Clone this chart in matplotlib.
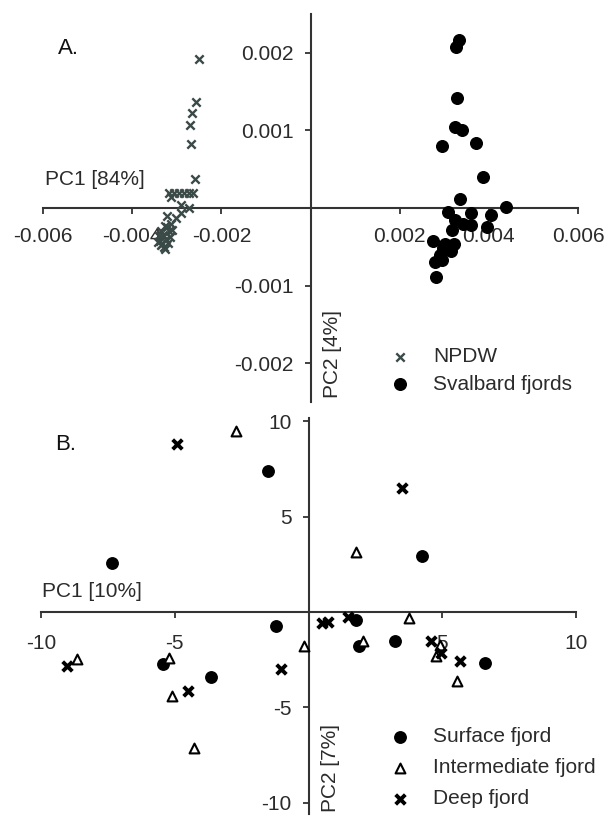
import matplotlib
matplotlib.use("Agg")
import numpy as np
from matplotlib import pyplot as plt
from matplotlib.ticker import FuncFormatter

plt.rcParams['font.family'] = ['Liberation Sans', 'DejaVu Sans']

# Panel A: PCA scores
npdw_x = [-0.00249, -0.00257, -0.00266, -0.00270, -0.00268, -0.00258,
          -0.00317, -0.00306, -0.00294, -0.00283, -0.00272, -0.00263,
          -0.00313, -0.00272, -0.00291, -0.00291, -0.00321, -0.00302,
          -0.00313, -0.00326,
          -0.00335, -0.00330, -0.00325, -0.00338, -0.00332, -0.00320,
          -0.00328, -0.00315, -0.00318, -0.00340, -0.00322, -0.00310,
          -0.00336, -0.00326, -0.00342]
npdw_y = [0.00192, 0.00137, 0.00123, 0.00107, 0.00083, 0.00037,
          0.00019, 0.00019, 0.00019, 0.00019, 0.00019, 0.00019,
          0.00014, 0.00000, 0.00004, -0.00007, -0.00010, -0.00013,
          -0.00020, -0.00023,
          -0.00030, -0.00035, -0.00040, -0.00042, -0.00046, -0.00045,
          -0.00050, -0.00038, -0.00030, -0.00036, -0.00025, -0.00028,
          -0.00048, -0.00053, -0.00044]

sval_x = [0.00333, 0.00327, 0.00329, 0.00325, 0.00339, 0.00296, 0.00372,
          0.00387, 0.00336, 0.00309, 0.00359, 0.00404, 0.00438, 0.00324,
          0.00342, 0.00359, 0.00395, 0.00318, 0.00275, 0.00301, 0.00321,
          0.00297, 0.00316, 0.00290, 0.00279, 0.00294, 0.00282]
sval_y = [0.00216, 0.00207, 0.00142, 0.00104, 0.00101, 0.00080, 0.00084,
          0.00040, 0.00011, -0.00005, -0.00007, -0.00009, 0.00001, -0.00015,
          -0.00021, -0.00022, -0.00025, -0.00028, -0.00042, -0.00046, -0.00046,
          -0.00052, -0.00056, -0.00061, -0.00069, -0.00067, -0.00089]

# Panel B: PCA scores
surf_x = [-7.33, -1.53, -1.22, -5.43, -3.65, 4.26, 1.77, 1.87, 3.23, 6.59]
surf_y = [2.59, 7.42, -0.73, -2.73, -3.40, 2.94, -0.42, -1.78, -1.51, -2.69]

inter_x = [-2.72, -8.64, -5.21, -5.12, -4.27, -0.16, 1.77, 2.04, 3.76, 4.92, 4.76, 5.54]
inter_y = [9.52, -2.48, -2.43, -4.41, -7.15, -1.78, 3.17, -1.51, -0.33, -1.73, -2.33, -3.61]

deep_x = [-4.93, -9.04, -4.50, -1.04, 3.48, 0.52, 0.74, 1.46, 4.57, 4.95, 5.67]
deep_y = [8.80, -2.83, -4.15, -3.01, 6.49, -0.59, -0.51, -0.25, -1.51, -2.17, -2.56]

ticks_a_x = [-0.006, -0.004, -0.002, 0, 0.002, 0.004, 0.006]
ticks_a_y = [-0.002, -0.001, 0, 0.001, 0.002]
ticks_b = [-10, -5, 0, 5, 10]

txt = '#2b2b2b'
fs = 15

fig = plt.figure(figsize=(6.09, 8.23), dpi=100)
W, H = 609, 823


def frac(l, t, r, b):
    return [l / W, 1 - b / H, (r - l) / W, (b - t) / H]


def style_axes(ax, xpad):
    for s in ['top', 'right']:
        ax.spines[s].set_visible(False)
    for s in ['left', 'bottom']:
        ax.spines[s].set_position(('data', 0))
        ax.spines[s].set_linewidth(1.5)
        ax.spines[s].set_color('#333333')
    ax.tick_params(axis='both', direction='out', length=4, width=1.3,
                   color='#333333', labelsize=fs, labelcolor=txt)
    ax.tick_params(axis='x', pad=xpad)
    ax.tick_params(axis='y', pad=8)
    ax.patch.set_alpha(0)


# ---- Panel A
axA = fig.add_axes(frac(43, 14, 578, 402))
style_axes(axA, 10)
axA.scatter(npdw_x, npdw_y, marker='x', s=36, linewidths=1.7,
            color='#3a4a47', zorder=3, label='NPDW')
axA.scatter(sval_x, sval_y, marker='o', s=70, color='black',
            zorder=3, label='Svalbard fjords')
axA.set_xlim(-0.006, 0.006)
axA.set_ylim(-0.0025, 0.0025)
axA.set_xticks(ticks_a_x)
axA.set_yticks(ticks_a_y)
fmtA = FuncFormatter(lambda v, p: '' if abs(v) < 1e-9 else f'{v:.3f}')
axA.xaxis.set_major_formatter(fmtA)
axA.yaxis.set_major_formatter(fmtA)
axA.text(0.003, 0.55, 'PC1 [84%]', transform=axA.transAxes,
         fontsize=fs, color=txt, ha='left', va='bottom')
fig.text(333 / W, 1 - 354 / H, 'PC2 [4%]', rotation=90, fontsize=fs,
         color=txt, ha='center', va='center')
fig.text(68 / W, 1 - 48 / H, 'A.', fontsize=fs + 1, color='#111111',
         ha='center', va='center')
axA.legend(loc='upper left', bbox_to_anchor=(379 / W, 1 - 347 / H),
           bbox_transform=fig.transFigure, frameon=False, fontsize=fs,
           labelcolor=txt, handletextpad=0.6, labelspacing=0.42,
           borderpad=0, borderaxespad=0, markerscale=1.0)

# ---- Panel B
y0, scale = 612, 19.05
ylo, yhi = -10.6, 10.2
axB = fig.add_axes(frac(41, y0 - yhi * scale, 576, y0 - ylo * scale))
style_axes(axB, 12)
axB.scatter(surf_x, surf_y, marker='o', s=68, color='black',
            zorder=3, label='Surface fjord')
axB.scatter(inter_x, inter_y, marker='^', s=50, facecolor='white',
            edgecolor='black', linewidths=1.5, zorder=3,
            label='Intermediate fjord')
axB.scatter(deep_x, deep_y, marker='x', s=48, linewidths=2.8,
            color='black', zorder=3, label='Deep fjord')
axB.set_xlim(-10, 10)
axB.set_ylim(ylo, yhi)
axB.set_xticks(ticks_b)
axB.set_yticks(ticks_b)
fmtB = FuncFormatter(lambda v, p: '' if abs(v) < 1e-9 else f'{v:g}')
axB.xaxis.set_major_formatter(fmtB)
axB.yaxis.set_major_formatter(fmtB)
axB.text(0.002, 0.537, 'PC1 [10%]', transform=axB.transAxes,
         fontsize=fs, color=txt, ha='left', va='bottom')
fig.text(330 / W, 1 - 768 / H, 'PC2 [7%]', rotation=90, fontsize=fs,
         color=txt, ha='center', va='center')
fig.text(66 / W, 1 - 445 / H, 'B.', fontsize=fs + 1, color='#111111',
         ha='center', va='center')
axB.legend(loc='upper left', bbox_to_anchor=(379 / W, 1 - 727 / H),
           bbox_transform=fig.transFigure, frameon=False, fontsize=fs,
           labelcolor=txt, handletextpad=0.6, labelspacing=0.58,
           borderpad=0, borderaxespad=0, markerscale=1.0)

fig.savefig('out.png', dpi=100)
